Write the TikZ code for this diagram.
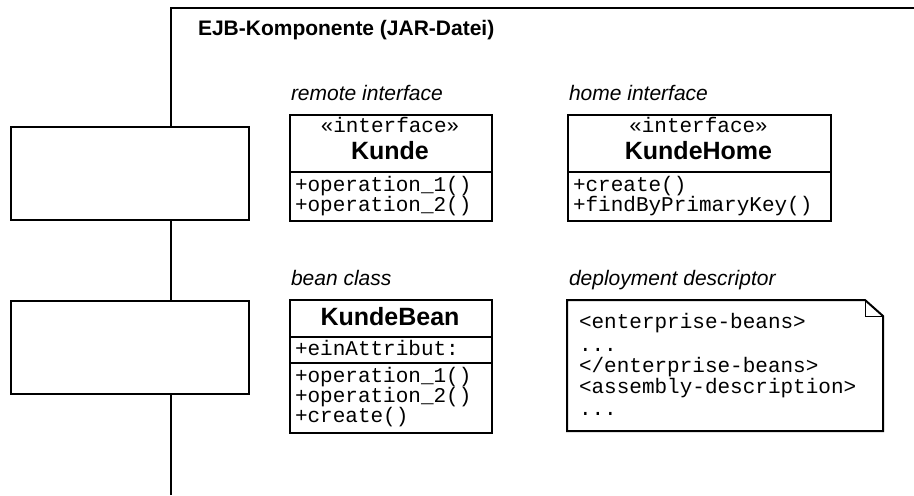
\documentclass[tikz,border=0pt]{standalone}
\usepackage{fontspec}
\setmainfont{Liberation Sans}
\setmonofont{Liberation Mono}
\usetikzlibrary{positioning}

\begin{document}
\begin{tikzpicture}[x=0.5pt, y=-0.5pt, line width=1pt,
    port/.style={draw, fill=white, minimum width=119pt, minimum height=46.5pt},
    classbox/.style={draw, anchor=north west, minimum width=101pt},
    stereo/.style={anchor=base, inner sep=0pt, font=\ttfamily\fontsize{10.5}{12}\selectfont},
    cname/.style={anchor=base, inner sep=0pt, font=\bfseries\fontsize{12.5}{14}\selectfont},
    member/.style={anchor=base west, inner sep=0pt, font=\ttfamily\fontsize{10.5}{12}\selectfont},
    role/.style={anchor=base west, inner sep=0pt, font=\itshape\fontsize{10.5}{12}\selectfont}]
  \useasboundingbox (0,0) rectangle (914,495);

  % component frame
  \draw (171,495) -- (171,8) -- (914,8);
  \node[anchor=base west, inner sep=0pt, font=\bfseries\fontsize{10.5}{12}\selectfont]
    (title) at (197,35) {EJB-Komponente (JAR-Datei)};

  \node[port] (p1) at (130,173.5) {};
  \node[port] (p2) [below=39.5pt of p1] {};

  % remote interface
  \node[role] (lremote) at (290,100) {remote interface};
  \node[classbox, minimum height=53pt] (kunde) at (289,114) {};
  \draw (kunde.west |- 0,172) -- (kunde.east |- 0,172);
  \node[stereo] (ks) at (390,132) {«interface»};
  \node[cname] (kn) at (390,159) {Kunde};
  \node[member] (kop1) at (294,191) {+operation\_1()};
  \node[member] (kop2) at (294,211) {+operation\_2()};

  % home interface
  \node[role] (lhome) at (568,100) {home interface};
  \node[classbox, minimum width=131.5pt, minimum height=53pt] (home) at (567,114) {};
  \draw (home.west |- 0,172) -- (home.east |- 0,172);
  \node[stereo] (hs) at (698.5,132) {«interface»};
  \node[cname] (hn) at (698.5,159) {KundeHome};
  \node[member] (hop1) at (572,191) {+create()};
  \node[member] (hop2) at (572,211) {+findByPrimaryKey()};

  % bean class
  \node[role] (lbean) at (290,285) {bean class};
  \node[classbox, minimum height=66.5pt] (bean) at (289,299) {};
  \draw (bean.west |- 0,337) -- (bean.east |- 0,337);
  \draw (bean.west |- 0,363) -- (bean.east |- 0,363);
  \node[cname] (bn) at (390,325) {KundeBean};
  \node[member] (battr) at (294,355) {+einAttribut:};
  \node[member] (bop1) at (294,382) {+operation\_1()};
  \node[member] (bop2) at (294,402) {+operation\_2()};
  \node[member] (bop3) at (294,422) {+create()};

  % deployment descriptor
  \node[role] (ldesc) at (568,285) {deployment descriptor};
  \node[anchor=north west, minimum width=157pt, minimum height=64.5pt] (desc) at (567,300) {};
  \draw (desc.south west) -- (desc.north west) -- ([xshift=-9pt]desc.north east)
    -- ([yshift=-8pt]desc.north east) -- (desc.south east) -- cycle;
  \draw[line width=0.5pt] ([xshift=-9pt]desc.north east) |- ([yshift=-8pt]desc.north east);
  \node[member] (d1) at (578,328) {<enterprise-beans>};
  \node[member] (d2) at (578,351) {...};
  \node[member] (d3) at (578,372) {</enterprise-beans>};
  \node[member] (d4) at (578,393) {<assembly-description>};
  \node[member] (d5) at (578,415) {...};
\end{tikzpicture}
\end{document}
